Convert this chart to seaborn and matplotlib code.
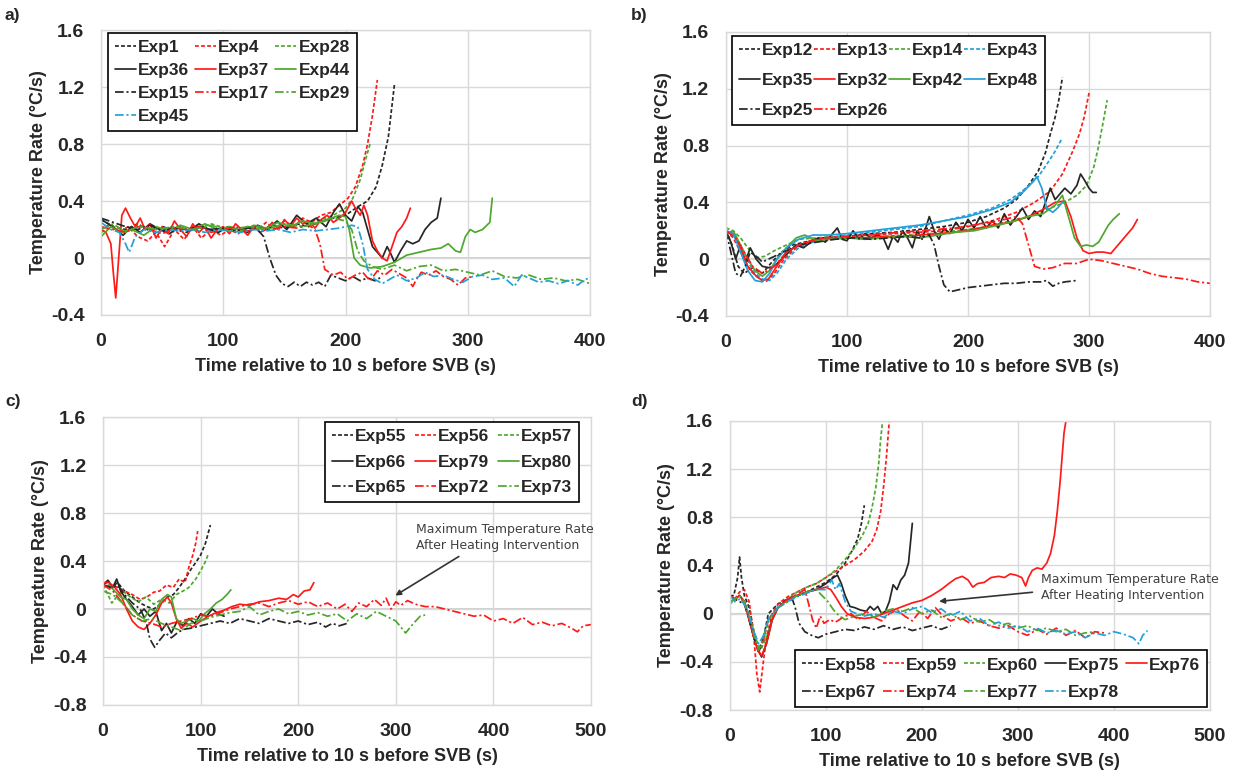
import math
import numpy as np
import pandas as pd
import matplotlib
matplotlib.use("Agg")
import matplotlib.pyplot as plt
from matplotlib.ticker import FuncFormatter, MultipleLocator
import seaborn as sns

# ---------------- panel a ----------------
EXP1_T = [0, 10, 20, 30, 40, 50, 60, 70, 80, 90, 100, 110, 120, 130, 140, 150, 160, 170, 180, 190, 200, 210, 218, 225, 230, 235, 240]
EXP1_R = [0.27, 0.22, 0.2, 0.24, 0.19, 0.22, 0.2, 0.18, 0.22, 0.2, 0.21, 0.19, 0.22, 0.2, 0.23, 0.21, 0.24, 0.22, 0.26, 0.28, 0.3, 0.36, 0.4, 0.5, 0.65, 0.85, 1.22]
EXP4_T = [0, 8, 15, 22, 30, 38, 45, 52, 60, 68, 75, 82, 90, 98, 105, 112, 120, 128, 135, 142, 150, 158, 165, 172, 180, 188, 195, 202, 208, 214, 218, 222, 226]
EXP4_R = [0.2, 0.24, 0.18, 0.22, 0.15, 0.12, 0.18, 0.08, 0.2, 0.13, 0.22, 0.14, 0.2, 0.16, 0.2, 0.17, 0.22, 0.2, 0.25, 0.2, 0.26, 0.22, 0.28, 0.25, 0.3, 0.32, 0.37, 0.42, 0.5, 0.65, 0.8, 1.0, 1.25]
EXP28_T = [0, 10, 20, 30, 45, 60, 75, 90, 105, 120, 135, 150, 165, 180, 190, 200, 206, 212, 216, 220]
EXP28_R = [0.18, 0.22, 0.19, 0.23, 0.2, 0.22, 0.19, 0.24, 0.2, 0.22, 0.2, 0.24, 0.22, 0.27, 0.3, 0.35, 0.42, 0.55, 0.68, 0.8]
EXP36_T = [0, 6, 12, 18, 25, 32, 40, 48, 56, 64, 72, 80, 88, 96, 104, 112, 120, 128, 136, 144, 152, 160, 168, 176, 184, 190, 195, 200, 205, 210, 214, 218, 222, 226, 230, 234, 237, 240, 245, 250, 255, 260, 265, 270, 275, 278]
EXP36_R = [0.27, 0.24, 0.2, 0.16, 0.22, 0.18, 0.24, 0.2, 0.17, 0.22, 0.19, 0.24, 0.2, 0.18, 0.22, 0.2, 0.18, 0.23, 0.2, 0.26, 0.2, 0.3, 0.24, 0.28, 0.22, 0.32, 0.38, 0.3, 0.26, 0.36, 0.32, 0.2, 0.08, 0.04, 0.0, 0.08, 0.03, -0.03, 0.05, 0.12, 0.1, 0.12, 0.2, 0.25, 0.28, 0.42]
EXP37_T = [0, 4, 8, 10, 12, 14, 17, 20, 24, 28, 32, 36, 40, 45, 50, 55, 60, 65, 70, 75, 80, 85, 90, 95, 100, 105, 110, 115, 120, 125, 130, 135, 140, 145, 150, 155, 160, 165, 170, 175, 180, 185, 190, 195, 200, 205, 208, 212, 215, 218, 222, 226, 230, 234, 238, 242, 246, 250, 253]
EXP37_R = [0.2, 0.18, 0.1, -0.1, -0.28, -0.05, 0.3, 0.35, 0.28, 0.22, 0.28, 0.2, 0.24, 0.14, 0.22, 0.17, 0.26, 0.2, 0.15, 0.24, 0.18, 0.22, 0.14, 0.2, 0.22, 0.17, 0.24, 0.2, 0.16, 0.22, 0.18, 0.2, 0.25, 0.2, 0.27, 0.22, 0.28, 0.24, 0.26, 0.21, 0.27, 0.3, 0.25, 0.28, 0.32, 0.4, 0.35, 0.3, 0.37, 0.3, 0.12, 0.05, 0.0, -0.02, 0.08, 0.18, 0.22, 0.28, 0.35]
EXP44_T = [0, 8, 16, 25, 35, 45, 55, 65, 75, 85, 95, 105, 115, 125, 135, 145, 155, 165, 175, 185, 195, 200, 203, 207, 212, 220, 230, 240, 250, 260, 270, 278, 284, 290, 294, 298, 302, 306, 312, 318, 320]
EXP44_R = [0.15, 0.22, 0.18, 0.2, 0.16, 0.22, 0.19, 0.23, 0.2, 0.24, 0.2, 0.22, 0.19, 0.23, 0.21, 0.25, 0.22, 0.26, 0.24, 0.27, 0.3, 0.29, 0.2, 0.0, -0.05, -0.07, -0.06, -0.03, 0.02, 0.04, 0.06, 0.07, 0.1, 0.05, 0.04, 0.15, 0.2, 0.18, 0.2, 0.25, 0.42]
EXP15_T = [0, 10, 20, 30, 40, 50, 60, 70, 80, 90, 100, 110, 120, 128, 133, 138, 143, 148, 153, 158, 163, 168, 173, 178, 183, 188, 194, 200, 206, 212, 218, 224, 230]
EXP15_R = [0.28, 0.25, 0.22, 0.2, 0.23, 0.19, 0.21, 0.2, 0.22, 0.2, 0.21, 0.19, 0.21, 0.2, 0.15, 0.0, -0.12, -0.18, -0.2, -0.17, -0.2, -0.17, -0.19, -0.17, -0.2, -0.12, -0.14, -0.16, -0.13, -0.16, -0.14, -0.16, -0.13]
EXP17_T = [0, 10, 20, 30, 40, 50, 60, 70, 80, 90, 100, 110, 120, 130, 140, 150, 160, 170, 175, 179, 183, 190, 196, 202, 208, 214, 220, 226, 232, 238, 244, 250, 255, 258, 262, 268, 274, 280, 286, 292, 298, 305]
EXP17_R = [0.22, 0.2, 0.18, 0.22, 0.2, 0.17, 0.21, 0.2, 0.22, 0.18, 0.2, 0.22, 0.19, 0.21, 0.2, 0.22, 0.21, 0.23, 0.2, 0.1, -0.08, -0.12, -0.1, -0.15, -0.12, -0.1, -0.16, -0.09, -0.12, -0.08, -0.11, -0.14, -0.2, -0.15, -0.1, -0.12, -0.09, -0.13, -0.15, -0.19, -0.14, -0.13]
EXP29_T = [0, 10, 20, 30, 45, 60, 75, 90, 105, 120, 135, 150, 165, 180, 190, 200, 205, 210, 215, 222, 230, 240, 250, 260, 270, 280, 290, 300, 310, 320, 330, 340, 350, 360, 370, 380, 390, 400]
EXP29_R = [0.2, 0.24, 0.18, 0.22, 0.2, 0.22, 0.2, 0.23, 0.19, 0.22, 0.2, 0.24, 0.22, 0.25, 0.28, 0.26, 0.2, 0.05, -0.02, -0.06, -0.08, -0.05, -0.09, -0.06, -0.05, -0.09, -0.08, -0.1, -0.12, -0.09, -0.13, -0.14, -0.12, -0.15, -0.14, -0.16, -0.15, -0.18]
EXP45_T = [0, 8, 15, 20, 23, 28, 35, 45, 55, 65, 75, 85, 95, 105, 115, 125, 135, 145, 155, 165, 175, 185, 195, 205, 210, 214, 218, 224, 230, 236, 242, 250, 258, 265, 272, 280, 288, 296, 304, 312, 320, 330, 338, 344, 350, 358, 366, 374, 382, 390, 396, 400]
EXP45_R = [0.25, 0.2, 0.18, 0.1, 0.04, 0.15, 0.2, 0.18, 0.2, 0.19, 0.2, 0.18, 0.2, 0.19, 0.18, 0.2, 0.19, 0.2, 0.18, 0.2, 0.19, 0.2, 0.21, 0.23, 0.22, 0.1, -0.08, -0.15, -0.18, -0.15, -0.12, -0.16, -0.14, -0.1, -0.13, -0.12, -0.15, -0.17, -0.13, -0.12, -0.15, -0.14, -0.2, -0.12, -0.14, -0.17, -0.16, -0.18, -0.16, -0.19, -0.15, -0.14]

# ---------------- panel b ----------------
EXP12_T = [0, 5, 10, 15, 22, 30, 38, 46, 55, 65, 80, 100, 120, 140, 160, 180, 200, 215, 230, 240, 250, 258, 264, 268, 272, 275, 278]
EXP12_R = [0.2, 0.1, -0.05, -0.1, -0.06, -0.1, -0.02, 0.05, 0.1, 0.12, 0.15, 0.16, 0.18, 0.19, 0.21, 0.23, 0.26, 0.3, 0.36, 0.42, 0.52, 0.62, 0.75, 0.88, 1.0, 1.12, 1.28]
EXP13_T = [0, 6, 12, 20, 28, 33, 40, 48, 58, 70, 85, 100, 120, 140, 160, 180, 200, 220, 240, 255, 268, 278, 286, 292, 296, 300]
EXP13_R = [0.2, 0.15, 0.05, -0.08, -0.14, -0.16, -0.1, 0.0, 0.08, 0.13, 0.15, 0.16, 0.17, 0.18, 0.19, 0.2, 0.23, 0.27, 0.33, 0.4, 0.48, 0.6, 0.75, 0.88, 1.0, 1.17]
EXP14_T = [0, 6, 12, 18, 25, 32, 40, 50, 60, 75, 90, 110, 130, 150, 170, 190, 210, 230, 250, 265, 280, 290, 298, 304, 308, 312, 315]
EXP14_R = [0.22, 0.2, 0.15, 0.08, 0.01, 0.02, 0.06, 0.1, 0.14, 0.15, 0.16, 0.15, 0.16, 0.17, 0.18, 0.2, 0.22, 0.26, 0.3, 0.35, 0.4, 0.45, 0.52, 0.65, 0.8, 0.98, 1.12]
EXP43_T = [0, 8, 15, 22, 30, 36, 42, 50, 60, 72, 85, 100, 120, 140, 160, 180, 200, 220, 235, 248, 258, 266, 272, 277]
EXP43_R = [0.2, 0.15, 0.05, -0.08, -0.14, -0.15, -0.1, 0.0, 0.08, 0.12, 0.15, 0.17, 0.19, 0.21, 0.23, 0.27, 0.31, 0.36, 0.42, 0.5, 0.58, 0.68, 0.76, 0.84]
EXP35_T = [0, 4, 8, 12, 16, 20, 25, 30, 35, 40, 46, 52, 58, 64, 70, 76, 82, 88, 92, 96, 100, 105, 110, 115, 120, 125, 130, 134, 138, 142, 146, 150, 154, 158, 162, 168, 172, 176, 180, 185, 190, 195, 200, 205, 210, 215, 220, 225, 230, 235, 240, 245, 250, 255, 260, 264, 268, 272, 276, 280, 285, 290, 293, 296, 300, 303, 306]
EXP35_R = [0.2, 0.12, 0.0, 0.1, -0.02, 0.08, 0.0, -0.05, -0.06, -0.05, 0.0, 0.05, 0.1, 0.08, 0.12, 0.15, 0.12, 0.18, 0.22, 0.14, 0.13, 0.2, 0.14, 0.18, 0.15, 0.17, 0.15, 0.07, 0.16, 0.12, 0.2, 0.15, 0.08, 0.2, 0.14, 0.3, 0.2, 0.14, 0.22, 0.18, 0.26, 0.2, 0.28, 0.22, 0.3, 0.22, 0.27, 0.22, 0.32, 0.24, 0.3, 0.36, 0.28, 0.34, 0.3, 0.4, 0.5, 0.42, 0.46, 0.5, 0.46, 0.52, 0.6, 0.56, 0.5, 0.47, 0.47]
EXP32_T = [0, 6, 12, 18, 25, 30, 35, 42, 50, 60, 72, 85, 100, 115, 130, 145, 160, 175, 190, 205, 220, 235, 250, 262, 272, 280, 285, 290, 295, 300, 306, 312, 318, 324, 330, 336, 340]
EXP32_R = [0.2, 0.18, 0.08, -0.05, -0.12, -0.15, -0.14, -0.05, 0.05, 0.1, 0.13, 0.14, 0.15, 0.15, 0.16, 0.16, 0.17, 0.18, 0.19, 0.21, 0.24, 0.26, 0.3, 0.35, 0.4, 0.41, 0.3, 0.15, 0.06, 0.04, 0.05, 0.05, 0.04, 0.1, 0.16, 0.22, 0.28]
EXP42_T = [0, 6, 12, 18, 24, 30, 36, 42, 50, 58, 65, 75, 85, 100, 115, 130, 145, 160, 175, 190, 205, 220, 235, 250, 262, 272, 278, 283, 288, 293, 298, 303, 308, 312, 316, 320, 325]
EXP42_R = [0.18, 0.2, 0.1, 0.0, -0.08, -0.12, -0.08, 0.0, 0.08, 0.15, 0.17, 0.13, 0.14, 0.15, 0.14, 0.15, 0.16, 0.15, 0.17, 0.19, 0.2, 0.23, 0.26, 0.3, 0.32, 0.38, 0.45, 0.3, 0.15, 0.09, 0.1, 0.09, 0.12, 0.18, 0.24, 0.28, 0.32]
EXP48_T = [0, 6, 12, 18, 24, 30, 36, 42, 50, 60, 72, 85, 100, 120, 140, 160, 180, 200, 220, 235, 245, 252, 257, 261, 265, 270, 274, 278]
EXP48_R = [0.2, 0.18, 0.05, -0.08, -0.15, -0.16, -0.1, 0.0, 0.08, 0.14, 0.17, 0.17, 0.18, 0.2, 0.22, 0.24, 0.27, 0.3, 0.35, 0.4, 0.47, 0.53, 0.58, 0.5, 0.36, 0.33, 0.36, 0.4]
EXP25_T = [0, 4, 8, 12, 16, 20, 25, 30, 40, 50, 60, 75, 90, 105, 120, 135, 150, 160, 168, 172, 176, 180, 185, 190, 200, 210, 220, 230, 240, 250, 260, 265, 270, 275, 280, 290]
EXP25_R = [0.2, 0.05, -0.1, -0.12, -0.05, 0.05, 0.02, -0.02, 0.02, 0.06, 0.1, 0.12, 0.14, 0.15, 0.14, 0.15, 0.16, 0.15, 0.17, 0.1, -0.05, -0.18, -0.23, -0.22, -0.2, -0.19, -0.18, -0.17, -0.17, -0.16, -0.16, -0.15, -0.19, -0.17, -0.16, -0.15]
EXP26_T = [0, 8, 15, 22, 30, 40, 50, 65, 80, 100, 130, 160, 190, 220, 240, 245, 250, 255, 262, 270, 280, 290, 300, 310, 320, 330, 340, 350, 360, 370, 380, 390, 400]
EXP26_R = [0.2, 0.15, 0.05, -0.05, -0.1, -0.05, 0.05, 0.12, 0.15, 0.16, 0.18, 0.2, 0.22, 0.26, 0.3, 0.25, 0.1, -0.05, -0.07, -0.06, -0.03, -0.03, 0.0, -0.01, -0.03, -0.05, -0.07, -0.1, -0.12, -0.13, -0.14, -0.16, -0.17]

# ---------------- panel c ----------------
EXP55_T = [0, 8, 15, 22, 30, 38, 45, 52, 60, 66, 72, 78, 84, 90, 96, 100, 105, 110]
EXP55_R = [0.2, 0.18, 0.22, 0.15, 0.1, 0.05, 0.02, 0.0, 0.05, 0.1, 0.12, 0.18, 0.25, 0.33, 0.4, 0.45, 0.55, 0.7]
EXP56_T = [0, 8, 15, 22, 30, 38, 45, 52, 58, 65, 72, 78, 84, 88, 92, 95, 97]
EXP56_R = [0.22, 0.2, 0.18, 0.15, 0.12, 0.08, 0.1, 0.14, 0.15, 0.2, 0.18, 0.25, 0.22, 0.35, 0.45, 0.55, 0.65]
EXP57_T = [0, 5, 9, 14, 20, 28, 36, 44, 52, 60, 68, 75, 82, 88, 95, 100, 104, 108]
EXP57_R = [0.2, 0.12, 0.05, 0.1, 0.15, 0.1, 0.06, 0.1, 0.04, 0.08, 0.05, 0.12, 0.15, 0.18, 0.25, 0.32, 0.38, 0.46]
EXP66_T = [0, 5, 10, 14, 18, 24, 30, 36, 42, 48, 54, 60, 65, 70, 76, 82, 88, 94, 100, 106, 112, 118, 124]
EXP66_R = [0.2, 0.24, 0.18, 0.25, 0.15, 0.08, 0.02, -0.05, 0.0, -0.06, -0.02, -0.18, -0.12, -0.2, -0.1, -0.14, -0.08, -0.12, -0.04, -0.06, 0.0, -0.04, -0.06]
EXP79_T = [0, 6, 12, 18, 24, 30, 36, 42, 48, 54, 60, 66, 70, 75, 80, 86, 92, 100, 108, 116, 124, 132, 140, 150, 160, 170, 180, 188, 195, 200, 206, 212, 216]
EXP79_R = [0.22, 0.22, 0.18, 0.12, 0.0, -0.1, -0.15, -0.17, -0.12, -0.05, 0.05, 0.1, 0.05, -0.08, -0.16, -0.12, -0.15, -0.1, -0.06, -0.03, -0.01, 0.02, 0.04, 0.03, 0.06, 0.07, 0.09, 0.08, 0.12, 0.1, 0.15, 0.16, 0.22]
EXP80_T = [0, 6, 12, 18, 24, 30, 36, 42, 48, 54, 60, 66, 70, 75, 80, 86, 92, 98, 104, 110, 116, 122, 128, 131]
EXP80_R = [0.18, 0.2, 0.15, 0.1, 0.08, 0.0, -0.05, -0.08, 0.0, -0.02, 0.08, 0.12, 0.1, -0.08, -0.12, -0.1, -0.08, -0.1, -0.04, 0.0, 0.05, 0.08, 0.13, 0.16]
EXP65_T = [0, 8, 15, 22, 30, 38, 44, 48, 53, 58, 64, 70, 76, 82, 90, 100, 110, 120, 130, 140, 150, 160, 170, 180, 190, 200, 210, 220, 228, 235, 242, 250]
EXP65_R = [0.2, 0.18, 0.2, 0.12, 0.05, 0.0, -0.1, -0.25, -0.32, -0.26, -0.2, -0.24, -0.2, -0.17, -0.16, -0.14, -0.12, -0.1, -0.12, -0.08, -0.1, -0.12, -0.08, -0.1, -0.12, -0.1, -0.13, -0.11, -0.15, -0.12, -0.14, -0.12]
EXP72_T = [0, 10, 20, 30, 40, 50, 60, 70, 80, 90, 100, 110, 120, 130, 140, 150, 160, 170, 180, 190, 200, 210, 220, 230, 240, 248, 255, 262, 270, 278, 285, 290, 295, 300, 305, 312, 320, 330, 340, 350, 360, 370, 380, 390, 400, 410, 420, 430, 440, 450, 460, 470, 480, 486, 492, 500]
EXP72_R = [0.2, 0.15, 0.05, -0.05, -0.1, -0.12, -0.15, -0.12, -0.1, -0.08, -0.05, -0.06, -0.03, 0.0, 0.02, 0.04, 0.05, 0.02, 0.05, 0.07, 0.04, 0.06, 0.02, 0.05, 0.0, 0.04, -0.02, 0.05, 0.02, 0.08, 0.03, 0.09, 0.0, 0.06, 0.03, 0.07, 0.04, 0.02, 0.02, 0.0, -0.02, -0.04, -0.06, -0.05, -0.1, -0.08, -0.12, -0.07, -0.13, -0.11, -0.14, -0.12, -0.16, -0.19, -0.14, -0.13]
EXP73_T = [0, 10, 20, 30, 40, 50, 60, 70, 80, 90, 100, 110, 120, 130, 140, 150, 160, 170, 180, 190, 200, 210, 220, 230, 240, 250, 260, 270, 280, 290, 300, 310, 318, 325, 330]
EXP73_R = [0.15, 0.12, 0.05, -0.05, -0.1, -0.08, -0.12, -0.15, -0.18, -0.12, -0.1, -0.07, -0.05, -0.03, -0.02, 0.02, -0.05, -0.02, 0.0, -0.04, -0.02, -0.05, -0.03, -0.06, -0.04, -0.1, -0.04, -0.08, -0.02, -0.06, -0.1, -0.2, -0.12, -0.06, -0.05]

# ---------------- panel d ----------------
EXP58_T = [0, 4, 8, 10, 12, 15, 20, 25, 30, 35, 40, 50, 60, 70, 80, 90, 100, 110, 120, 127, 133, 137, 140]
EXP58_R = [0.15, 0.15, 0.3, 0.47, 0.3, 0.15, 0.05, -0.15, -0.3, -0.2, 0.0, 0.08, 0.12, 0.15, 0.18, 0.22, 0.26, 0.32, 0.42, 0.52, 0.62, 0.75, 0.9]
EXP59_T = [0, 5, 10, 15, 20, 25, 28, 31, 34, 38, 44, 50, 60, 70, 80, 90, 100, 110, 120, 130, 140, 148, 153, 157, 160, 163, 166]
EXP59_R = [0.15, 0.12, 0.18, 0.2, 0.1, -0.2, -0.5, -0.65, -0.45, -0.2, 0.0, 0.08, 0.14, 0.18, 0.22, 0.25, 0.3, 0.35, 0.4, 0.45, 0.52, 0.6, 0.7, 0.85, 1.05, 1.3, 1.6]
EXP60_T = [0, 5, 10, 15, 20, 26, 32, 38, 44, 50, 60, 70, 80, 90, 100, 110, 120, 130, 138, 144, 148, 152, 155, 157, 159]
EXP60_R = [0.08, 0.12, 0.15, 0.1, 0.0, -0.2, -0.3, -0.2, -0.05, 0.05, 0.12, 0.18, 0.22, 0.25, 0.3, 0.36, 0.45, 0.55, 0.65, 0.75, 0.88, 1.05, 1.25, 1.45, 1.6]
EXP75_T = [0, 5, 10, 15, 20, 25, 29, 33, 38, 44, 50, 60, 70, 80, 90, 100, 108, 112, 116, 120, 125, 130, 136, 142, 146, 150, 154, 158, 162, 166, 170, 174, 178, 182, 186, 190]
EXP75_R = [0.15, 0.12, 0.15, 0.1, -0.05, -0.2, -0.3, -0.36, -0.25, -0.05, 0.05, 0.12, 0.15, 0.18, 0.2, 0.25, 0.3, 0.32, 0.25, 0.15, 0.06, 0.05, 0.03, 0.02, 0.06, 0.03, 0.06, 0.0, 0.02, 0.1, 0.24, 0.2, 0.28, 0.32, 0.42, 0.75]
EXP76_T = [0, 5, 10, 15, 20, 25, 29, 33, 38, 44, 50, 60, 70, 80, 90, 100, 105, 110, 116, 122, 130, 140, 150, 160, 170, 180, 190, 200, 210, 220, 228, 235, 242, 248, 253, 258, 265, 272, 280, 286, 292, 298, 304, 308, 311, 315, 320, 325, 330, 334, 338, 341, 344, 346, 348, 350]
EXP76_R = [0.15, 0.12, 0.15, 0.1, -0.05, -0.2, -0.3, -0.35, -0.25, -0.05, 0.05, 0.12, 0.15, 0.18, 0.2, 0.22, 0.2, 0.14, 0.06, 0.0, -0.03, -0.04, -0.03, 0.0, 0.03, 0.06, 0.09, 0.11, 0.15, 0.2, 0.25, 0.29, 0.31, 0.28, 0.22, 0.25, 0.26, 0.3, 0.31, 0.3, 0.33, 0.32, 0.3, 0.23, 0.3, 0.36, 0.38, 0.37, 0.42, 0.5, 0.65, 0.85, 1.1, 1.3, 1.5, 1.6]
EXP67_T = [0, 5, 10, 15, 20, 25, 30, 35, 40, 50, 60, 65, 68, 72, 78, 85, 92, 100, 110, 120, 130, 140, 150, 160, 170, 180, 190, 200, 210, 220, 230]
EXP67_R = [0.15, 0.12, 0.1, 0.08, -0.05, -0.2, -0.32, -0.2, -0.05, 0.05, 0.1, 0.12, 0.05, -0.08, -0.15, -0.18, -0.2, -0.17, -0.15, -0.13, -0.14, -0.11, -0.13, -0.1, -0.13, -0.11, -0.14, -0.12, -0.1, -0.13, -0.1]
EXP74_T = [0, 5, 10, 15, 20, 25, 30, 35, 40, 50, 60, 70, 78, 82, 86, 90, 94, 98, 104, 110, 118, 126, 134, 142, 150, 158, 166, 174, 182, 190, 198, 206, 214, 222, 230, 240, 250, 260, 270, 280, 290, 300, 310, 320, 330, 340, 350, 360, 370, 380, 390]
EXP74_R = [0.15, 0.12, 0.15, 0.08, -0.05, -0.2, -0.32, -0.22, -0.05, 0.05, 0.12, 0.16, 0.2, 0.08, -0.05, -0.12, -0.02, -0.08, -0.05, -0.07, -0.03, 0.0, -0.05, 0.02, -0.03, -0.06, 0.0, 0.03, -0.02, -0.06, 0.02, -0.04, 0.05, -0.02, -0.06, -0.03, -0.08, -0.06, -0.1, -0.12, -0.1, -0.15, -0.18, -0.13, -0.17, -0.12, -0.18, -0.14, -0.2, -0.15, -0.16]
EXP77_T = [0, 5, 10, 15, 20, 25, 30, 35, 40, 50, 60, 70, 80, 90, 96, 102, 108, 114, 120, 130, 140, 150, 160, 170, 180, 190, 200, 210, 220, 230, 240, 250, 260, 270, 280, 290, 300, 310, 320, 330, 340, 350, 360, 370, 380]
EXP77_R = [0.1, 0.12, 0.15, 0.1, -0.02, -0.18, -0.3, -0.2, -0.05, 0.05, 0.1, 0.15, 0.18, 0.2, 0.15, 0.1, 0.03, -0.02, -0.05, -0.02, 0.0, -0.03, 0.02, 0.04, 0.02, 0.05, 0.0, 0.03, -0.03, 0.0, -0.05, -0.02, -0.07, -0.05, -0.1, -0.08, -0.12, -0.1, -0.14, -0.12, -0.15, -0.13, -0.18, -0.16, -0.15]
EXP78_T = [0, 5, 10, 15, 20, 25, 30, 35, 40, 50, 60, 70, 80, 90, 100, 106, 110, 114, 120, 126, 132, 140, 150, 160, 170, 180, 190, 200, 210, 220, 230, 240, 250, 260, 270, 280, 290, 300, 310, 320, 330, 340, 350, 360, 370, 380, 390, 400, 410, 420, 426, 430, 435]
EXP78_R = [0.15, 0.1, 0.12, 0.08, -0.02, -0.15, -0.25, -0.18, -0.05, 0.05, 0.1, 0.14, 0.17, 0.2, 0.2, 0.28, 0.2, 0.25, 0.1, 0.02, 0.0, -0.02, 0.0, -0.03, 0.02, 0.0, 0.04, 0.06, 0.01, 0.04, -0.02, 0.02, -0.06, -0.04, -0.1, -0.07, -0.12, -0.1, -0.15, -0.12, -0.16, -0.14, -0.17, -0.15, -0.2, -0.16, -0.18, -0.15, -0.17, -0.2, -0.25, -0.18, -0.14]

BLACK = "#262626"
RED = "#ff1a1a"
GREEN = "#4ea72e"
BLUE = "#22a0da"
STYLES = {"dash": (0, (2.2, 1.3)), "solid": "-", "dashdot": (0, (5, 1.6, 1.2, 1.6))}

# (label, t, r, colour, style), listed in legend reading order (row by row)
PANEL_A = [("Exp1", EXP1_T, EXP1_R, BLACK, "dash"), ("Exp4", EXP4_T, EXP4_R, RED, "dash"),
           ("Exp28", EXP28_T, EXP28_R, GREEN, "dash"), ("Exp36", EXP36_T, EXP36_R, BLACK, "solid"),
           ("Exp37", EXP37_T, EXP37_R, RED, "solid"), ("Exp44", EXP44_T, EXP44_R, GREEN, "solid"),
           ("Exp15", EXP15_T, EXP15_R, BLACK, "dashdot"), ("Exp17", EXP17_T, EXP17_R, RED, "dashdot"),
           ("Exp29", EXP29_T, EXP29_R, GREEN, "dashdot"), ("Exp45", EXP45_T, EXP45_R, BLUE, "dashdot")]
PANEL_B = [("Exp12", EXP12_T, EXP12_R, BLACK, "dash"), ("Exp13", EXP13_T, EXP13_R, RED, "dash"),
           ("Exp14", EXP14_T, EXP14_R, GREEN, "dash"), ("Exp43", EXP43_T, EXP43_R, BLUE, "dash"),
           ("Exp35", EXP35_T, EXP35_R, BLACK, "solid"), ("Exp32", EXP32_T, EXP32_R, RED, "solid"),
           ("Exp42", EXP42_T, EXP42_R, GREEN, "solid"), ("Exp48", EXP48_T, EXP48_R, BLUE, "solid"),
           ("Exp25", EXP25_T, EXP25_R, BLACK, "dashdot"), ("Exp26", EXP26_T, EXP26_R, RED, "dashdot")]
PANEL_C = [("Exp55", EXP55_T, EXP55_R, BLACK, "dash"), ("Exp56", EXP56_T, EXP56_R, RED, "dash"),
           ("Exp57", EXP57_T, EXP57_R, GREEN, "dash"), ("Exp66", EXP66_T, EXP66_R, BLACK, "solid"),
           ("Exp79", EXP79_T, EXP79_R, RED, "solid"), ("Exp80", EXP80_T, EXP80_R, GREEN, "solid"),
           ("Exp65", EXP65_T, EXP65_R, BLACK, "dashdot"), ("Exp72", EXP72_T, EXP72_R, RED, "dashdot"),
           ("Exp73", EXP73_T, EXP73_R, GREEN, "dashdot")]
PANEL_D = [("Exp58", EXP58_T, EXP58_R, BLACK, "dash"), ("Exp59", EXP59_T, EXP59_R, RED, "dash"),
           ("Exp60", EXP60_T, EXP60_R, GREEN, "dash"), ("Exp75", EXP75_T, EXP75_R, BLACK, "solid"),
           ("Exp76", EXP76_T, EXP76_R, RED, "solid"), ("Exp67", EXP67_T, EXP67_R, BLACK, "dashdot"),
           ("Exp74", EXP74_T, EXP74_R, RED, "dashdot"), ("Exp77", EXP77_T, EXP77_R, GREEN, "dashdot"),
           ("Exp78", EXP78_T, EXP78_R, BLUE, "dashdot")]

NOTE = "Maximum Temperature Rate\nAfter Heating Intervention"

sns.set_theme(style="whitegrid")
plt.rcParams["font.family"] = ["Liberation Sans", "DejaVu Sans"]

fig = plt.figure(figsize=(12.37, 7.72), dpi=100)


def fmt(v, pos):
    if abs(v) < 1e-9:
        return "0"
    return f"{v:g}"


def draw(ax, series, xmax, ymin, ncol, spacing, colspace, legend_kw):
    for label, t, r, color, style in series:
        df = pd.DataFrame({"t": t, "r": r})
        sns.lineplot(data=df, x="t", y="r", ax=ax, color=color, linestyle=STYLES[style],
                     linewidth=1.25, label=label, sort=False, estimator=None)
    ax.set_xlim(0, xmax)
    ax.set_ylim(ymin, 1.6)
    ax.xaxis.set_major_locator(MultipleLocator(100))
    ax.yaxis.set_major_locator(MultipleLocator(0.4))
    ax.yaxis.set_major_formatter(FuncFormatter(fmt))
    ax.grid(True, color="#d9d9d9", linewidth=1.0)
    for s in ax.spines.values():
        s.set_color("#d9d9d9")
        s.set_linewidth(1.0)
    ax.axhline(0, color="#c8c8c8", linewidth=1.2, zorder=0.5)
    ax.tick_params(axis="x", labelsize=14, pad=13, length=0)
    ax.tick_params(axis="y", labelsize=14, pad=12, length=0)
    for lab in ax.get_xticklabels() + ax.get_yticklabels():
        lab.set_fontweight("bold")
    ax.set_xlabel("Time relative to 10 s before SVB (s)", fontsize=13, fontweight="bold", labelpad=6)
    ax.set_ylabel("Temperature Rate (°C/s)", fontsize=13, fontweight="bold", labelpad=3)
    # legend is read row by row; matplotlib fills column by column
    handles, labels = ax.get_legend_handles_labels()
    n = len(labels)
    order = [row * ncol + col for col in range(ncol) for row in range(math.ceil(n / ncol)) if row * ncol + col < n]
    leg = ax.legend([handles[i] for i in order], [labels[i] for i in order], ncol=ncol,
                    frameon=True, fancybox=False, edgecolor="black", framealpha=1,
                    prop={"weight": "bold", "size": 12.5}, handlelength=1.2, handletextpad=0.12,
                    columnspacing=colspace, labelspacing=spacing, borderpad=0.4,
                    borderaxespad=0, **legend_kw)
    leg.get_frame().set_linewidth(1.2)


ax_a = fig.add_axes([0.0817, 0.592, 0.3953, 0.369])
ax_b = fig.add_axes([0.5869, 0.5907, 0.3913, 0.3679])
ax_c = fig.add_axes([0.0833, 0.0868, 0.3945, 0.373])
ax_d = fig.add_axes([0.5901, 0.0803, 0.388, 0.3744])

draw(ax_a, PANEL_A, 400, -0.4, 3, 0.45, 0.35, {"loc": "upper left", "bbox_to_anchor": (0.014, 0.989)})
draw(ax_b, PANEL_B, 400, -0.4, 4, 0.85, 0.05, {"loc": "upper left", "bbox_to_anchor": (0.012, 0.986)})
draw(ax_c, PANEL_C, 500, -0.8, 3, 0.6, 0.5, {"loc": "upper right", "bbox_to_anchor": (0.975, 0.983)})
draw(ax_d, PANEL_D, 500, -0.8, 5, 0.72, 0.4, {"loc": "lower right", "bbox_to_anchor": (0.994, 0.01)})

ax_c.annotate("", xy=(297, 0.1), xytext=(367, 0.45),
              arrowprops=dict(arrowstyle="-|>", color="#333333", lw=1.2, mutation_scale=8))
ax_c.text(321, 0.6, NOTE, fontsize=9, color="#404040", va="center", ha="left",
          family=["DejaVu Sans"], linespacing=1.3)
ax_d.annotate("", xy=(215, 0.1), xytext=(318, 0.18),
              arrowprops=dict(arrowstyle="-|>", color="#333333", lw=1.2, mutation_scale=8))
ax_d.text(324, 0.22, NOTE, fontsize=9, color="#404040", va="center", ha="left",
          family=["DejaVu Sans"], linespacing=1.3)

for x, y, lab in [(0.004, 0.99, "a)"), (0.51, 0.99, "b)"), (0.004, 0.49, "c)"), (0.51, 0.49, "d)")]:
    fig.text(x, y, lab, fontsize=12.5, fontweight="bold", va="top", ha="left")

fig.savefig("out.png", dpi=100, facecolor="white")
